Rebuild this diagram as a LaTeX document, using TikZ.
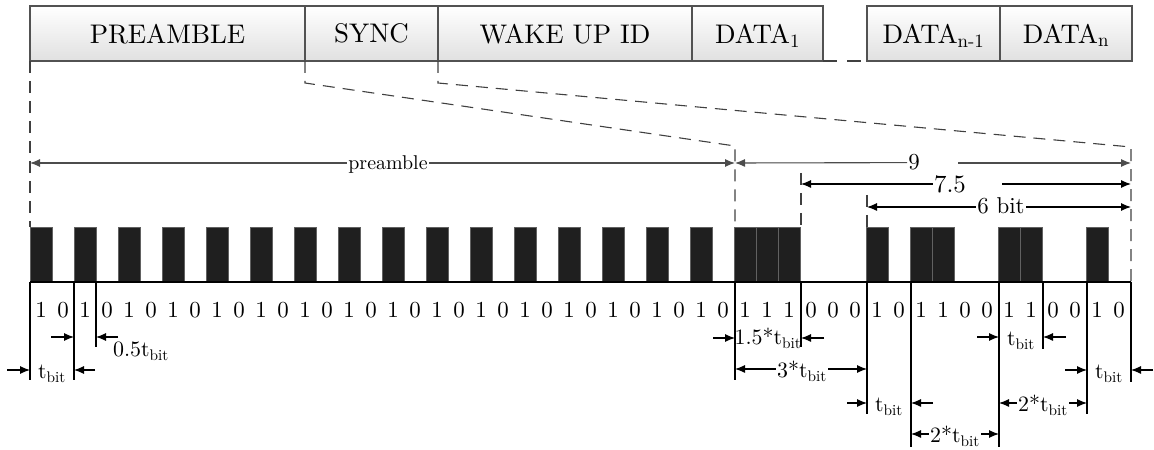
\documentclass[tikz,border=0pt]{standalone}
\usepackage{fontspec}
\setmainfont{lmroman10-regular.otf}
\usetikzlibrary{arrows.meta}
\begin{document}
\begin{tikzpicture}[x=1bp,y=-1bp,
  field/.style={draw=black!68, line width=1.1bp, top color=white, bottom color=black!12,
    minimum height=55bp, inner sep=0pt, outer sep=0pt, anchor=north west,
    text depth=0pt, font=\fontsize{27}{30}\selectfont},
  pulse/.style={fill=black!88, draw=black!62, line width=0.8bp},
  digit/.style={inner sep=0pt, font=\fontsize{23}{26}\selectfont},
  guide/.style={draw=black!75, line width=1.1bp, dash pattern=on 12bp off 8bp},
  tick/.style={draw=black, line width=1.2bp},
  tip/.style={line width=1.1bp, -{Latex[length=10bp,width=8bp]}},
  both/.style={line width=1.1bp, {Latex[length=10bp,width=8bp]}-{Latex[length=10bp,width=8bp]}},
  dimlbl/.style={inner sep=1bp, anchor=base, font=\fontsize{22}{24}\selectfont},
  toplbl/.style={inner sep=1bp, anchor=base, fill=white}
]
\useasboundingbox (0,0) rectangle (1154,450);

% ---- frame fields ----
\node[field, minimum width=275bp] (pre)  at (30,6)   {PREAMBLE};
\node[field, minimum width=133bp] (sync) at (305,6)  {SYNC};
\node[field, minimum width=254bp] (wid)  at (438,6)  {WAKE UP ID};
\node[field, minimum width=131bp] (d1)   at (692,6)  {DATA\textsubscript{1}};
\node[field, minimum width=133bp] (dn1)  at (867,6)  {DATA\textsubscript{n-1}};
\node[field, minimum width=132bp] (dn)   at (1000,6) {DATA\textsubscript{n}};

% ---- dashed guides from the fields to the bit stream ----
\coordinate (gA) at (30,227);
\coordinate (gB1) at (305,83);  \coordinate (gB2) at (735,146); \coordinate (gB3) at (735,227);
\coordinate (gC1) at (438,83);  \coordinate (gC2) at (1131,147); \coordinate (gC3) at (1131,282);
\draw[guide] (pre.south west) -- (gA);
\draw[guide] (sync.south west) -- (gB1) -- (gB2) -- (gB3);
\draw[guide] (wid.south west) -- (gC1) -- (gC2) -- (gC3);
\draw[guide, dash pattern=on 14bp off 10bp] (d1.south east) -- (dn1.south west);
\draw[guide] (801,173) -- (801,227);
\draw[guide] (867,195) -- (867,227);

% ---- bit stream ----
\foreach \b [count=\i from 0] in {1,0,1,0,1,0,1,0,1,0,1,0,1,0,1,0,1,0,1,0,1,0,1,0,1,0,1,0,1,0,1,0,
                                  1,1,1,0,0,0,1,0,1,1,0,0,1,1,0,0,1,0}{
  \ifnum\b=1 \filldraw[pulse] ({30+22*\i},227) rectangle ({52+22*\i},282); \fi
  \node[digit] (b\i) at ({41+22*\i},310) {\b};
}
\draw[tick] (30,282) -- (1131,282);
\foreach \x/\y in {30/380, 74/380, 96/347, 735/380, 801/347, 867/414,
                   911/447, 999/447, 1043/349, 1087/414, 1131/382}
  \draw[tick] (\x,282) -- (\x,\y);

% ---- dimensions above the stream ----
\draw[both, draw=black!70, fill=black!70] (30,163) -- (735,163);
\node[toplbl, font=\fontsize{20}{22}\selectfont] (lpre) at (388,170) {preamble};

\node[toplbl, font=\fontsize{23}{25}\selectfont, fill=none] (l9) at (914,170) {9};
\draw[tip, draw=black!70, fill=black!70] (l9.west) -- (735,163);
\draw[tip, draw=black!70, fill=black!70] (958,163) -- (1131,163);

\node[toplbl, font=\fontsize{25}{27}\selectfont, fill=none] (l75) at (950,193) {7.5};
\draw[tip] (l75.west |- 0,184) -- (801,184);
\draw[tip] (1002,184) -- (1131,184);

\draw[both] (867,207) -- (1131,207);
\node[toplbl, font=\fontsize{23}{25}\selectfont] (l6) at (1001,214) {6 bit};

% ---- timing annotations below the stream ----
\draw[tip] (7,370) -- (30,370);   \draw[tip] (95,370) -- (74,370);
\node[dimlbl] (t1) at (52,379) {t\textsubscript{bit}};

\draw[tip] (51,337) -- (74,337);  \draw[tip] (118,337) -- (96,337);
\node[dimlbl] (t2) at (141,357) {0.5t\textsubscript{bit}};

\draw[tip] (713,338) -- (735,338); \draw[tip] (824,338) -- (801,338);
\node[dimlbl] (t3) at (768,345) {1.5*t\textsubscript{bit}};

\draw[both] (735,369) -- (867,369);
\node[dimlbl, fill=white] (t4) at (802,378) {3*t\textsubscript{bit}};

\draw[tip] (847,403) -- (867,403); \draw[tip] (933,403) -- (911,403);
\node[dimlbl] (t5) at (889,412) {t\textsubscript{bit}};

\draw[both] (911,434) -- (999,434);
\node[dimlbl, fill=white] (t6) at (955,443) {2*t\textsubscript{bit}};

\draw[tip] (977,337) -- (999,337); \draw[tip] (1066,337) -- (1043,337);
\node[dimlbl] (t7) at (1021,346) {t\textsubscript{bit}};

\draw[both] (999,403) -- (1087,403);
\node[dimlbl, fill=white] (t8) at (1043,412) {2*t\textsubscript{bit}};

\draw[tip] (1065,370) -- (1087,370); \draw[tip] (1153,370) -- (1131,370);
\node[dimlbl] (t9) at (1109,379) {t\textsubscript{bit}};
\end{tikzpicture}
\end{document}
